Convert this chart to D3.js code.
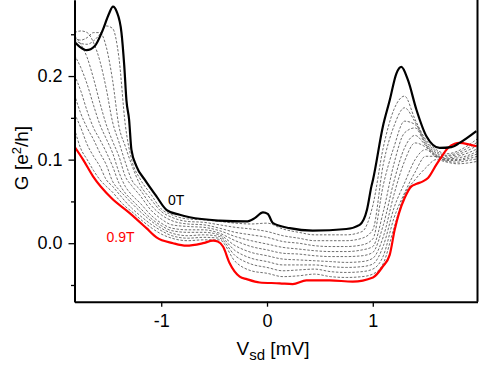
<!DOCTYPE html>
<html>
<head>
<meta charset="utf-8">
<script src="https://cdn.jsdelivr.net/npm/d3@7"></script>
<style>
  body { margin: 0; background: #fff; }
  svg { display: block; font-family: "Liberation Sans", Arial, sans-serif; }
</style>
</head>
<body>
<svg id="chart"></svg>
<script>
// bias voltage grid (mV) shared by the dashed intermediate-field curves
let vGrid = [-1.82, -1.76, -1.70, -1.64, -1.58, -1.52, -1.46, -1.40, -1.34, -1.28, -1.20, -1.10, -1.00, -0.90, -0.75, -0.60, -0.45, -0.30, -0.15, 0.00, 0.15, 0.30, 0.45, 0.60, 0.75, 0.90, 1.00, 1.10, 1.20, 1.30, 1.40, 1.50, 1.60, 1.70, 1.80, 1.90, 1.99]

// dashed curves, from just above 0T down to just below 0.9T
let g1 = [0.244, 0.239, 0.238, 0.242, 0.250, 0.260, 0.257, 0.222, 0.142, 0.100, 0.077, 0.059, 0.041, 0.034, 0.029, 0.028, 0.026, 0.024, 0.023, 0.024, 0.017, 0.013, 0.010, 0.010, 0.010, 0.014, 0.045, 0.115, 0.160, 0.176, 0.148, 0.124, 0.112, 0.107, 0.110, 0.117, 0.125]
let g2 = [0.246, 0.243, 0.246, 0.252, 0.252, 0.235, 0.195, 0.140, 0.116, 0.094, 0.070, 0.053, 0.038, 0.031, 0.026, 0.025, 0.022, 0.019, 0.017, 0.014, 0.009, 0.006, 0.003, 0.003, 0.003, 0.006, 0.016, 0.095, 0.140, 0.162, 0.145, 0.122, 0.110, 0.105, 0.108, 0.114, 0.121]
let g3 = [0.252, 0.254, 0.252, 0.240, 0.218, 0.185, 0.145, 0.121, 0.097, 0.076, 0.064, 0.046, 0.034, 0.027, 0.023, 0.022, 0.018, 0.013, 0.010, 0.007, 0.002, 0.000, -0.003, -0.004, -0.004, -0.002, 0.005, 0.070, 0.115, 0.146, 0.142, 0.120, 0.108, 0.104, 0.106, 0.111, 0.117]
let g4 = [0.248, 0.238, 0.222, 0.197, 0.168, 0.142, 0.122, 0.104, 0.080, 0.069, 0.057, 0.040, 0.029, 0.022, 0.020, 0.019, 0.015, 0.008, 0.003, -0.001, -0.005, -0.007, -0.009, -0.010, -0.010, -0.008, -0.004, 0.038, 0.095, 0.132, 0.138, 0.118, 0.106, 0.102, 0.104, 0.108, 0.113]
let g5 = [0.225, 0.210, 0.190, 0.165, 0.142, 0.125, 0.108, 0.085, 0.068, 0.058, 0.048, 0.034, 0.024, 0.018, 0.016, 0.016, 0.012, 0.003, -0.004, -0.008, -0.012, -0.013, -0.015, -0.016, -0.016, -0.015, -0.011, 0.022, 0.074, 0.114, 0.129, 0.117, 0.105, 0.101, 0.102, 0.105, 0.110]
let g6 = [0.201, 0.182, 0.158, 0.138, 0.124, 0.109, 0.092, 0.072, 0.060, 0.052, 0.042, 0.030, 0.021, 0.015, 0.013, 0.013, 0.010, -0.003, -0.011, -0.015, -0.019, -0.020, -0.021, -0.022, -0.023, -0.022, -0.018, 0.008, 0.058, 0.098, 0.120, 0.115, 0.104, 0.100, 0.100, 0.103, 0.107]
let g7 = [0.178, 0.155, 0.138, 0.124, 0.108, 0.094, 0.074, 0.064, 0.056, 0.048, 0.038, 0.027, 0.018, 0.012, 0.009, 0.010, 0.008, -0.009, -0.018, -0.022, -0.026, -0.026, -0.026, -0.028, -0.029, -0.028, -0.025, -0.003, 0.042, 0.072, 0.100, 0.112, 0.103, 0.099, 0.099, 0.101, 0.104]
let g8 = [0.155, 0.138, 0.118, 0.104, 0.092, 0.076, 0.068, 0.059, 0.050, 0.042, 0.033, 0.023, 0.015, 0.009, 0.006, 0.007, 0.006, -0.015, -0.025, -0.029, -0.033, -0.032, -0.031, -0.034, -0.035, -0.034, -0.031, -0.015, 0.030, 0.060, 0.085, 0.104, 0.104, 0.098, 0.097, 0.099, 0.101]
let g9 = [0.137, 0.113, 0.100, 0.087, 0.076, 0.068, 0.061, 0.052, 0.044, 0.038, 0.029, 0.019, 0.011, 0.006, 0.003, 0.004, 0.004, -0.022, -0.033, -0.036, -0.040, -0.039, -0.037, -0.040, -0.041, -0.040, -0.037, -0.024, 0.018, 0.058, 0.076, 0.090, 0.100, 0.097, 0.095, 0.096, 0.098]

// 0T (black)
let v0T = [-1.822, -1.77, -1.707, -1.628, -1.553, -1.496, -1.456, -1.421, -1.376, -1.35, -1.329, -1.304, -1.282, -1.234, -1.156, -1.045, -0.951, -0.825, -0.731, -0.447, -0.195, -0.116, -0.038, 0.007, 0.057, 0.215, 0.432, 0.750, 0.876, 0.945, 0.987, 1.002, 1.096, 1.160, 1.223, 1.270, 1.333, 1.412, 1.507, 1.632, 1.743, 1.821, 1.979]
let g0T = [0.241, 0.235, 0.231, 0.236, 0.255, 0.274, 0.283, 0.277, 0.252, 0.213, 0.171, 0.148, 0.112, 0.092, 0.076, 0.056, 0.040, 0.034, 0.031, 0.027, 0.026, 0.030, 0.037, 0.035, 0.024, 0.018, 0.015, 0.017, 0.022, 0.040, 0.068, 0.076, 0.140, 0.171, 0.203, 0.211, 0.195, 0.160, 0.128, 0.114, 0.115, 0.120, 0.134]

// 0.9T (red)
let v09T = [-1.822, -1.739, -1.645, -1.471, -1.298, -1.140, -1.045, -0.888, -0.762, -0.605, -0.510, -0.466, -0.416, -0.353, -0.258, -0.192, -0.069, 0.120, 0.243, 0.372, 0.593, 0.810, 1.002, 1.094, 1.160, 1.207, 1.248, 1.301, 1.365, 1.415, 1.474, 1.522, 1.601, 1.632, 1.711, 1.774, 1.821, 1.916, 1.982]
let g09T = [0.116, 0.100, 0.080, 0.054, 0.036, 0.018, 0.007, 0.000, -0.003, 0.000, 0.003, 0.002, -0.004, -0.024, -0.040, -0.043, -0.047, -0.048, -0.049, -0.0445, -0.0445, -0.046, -0.041, -0.028, -0.014, 0.016, 0.036, 0.054, 0.068, 0.071, 0.074, 0.078, 0.094, 0.100, 0.114, 0.119, 0.120, 0.118, 0.116]

let xTicks = [-1, 0, 1]
let yTicks = [0.0, 0.1, 0.2]
let yMinor = [-0.05, 0.05, 0.15, 0.25]

let w = 479
let h = 366
let padLeft = 74.5
let padRight = 477.5
let padTop = 0
let padBottom = 301.7

let svg = d3.select("#chart").attr("width", w).attr("height", h)

let xScale = d3.scaleLinear().domain([-1.82, 1.99]).range([padLeft, padRight])
let yScale = d3.scaleLinear().domain([-0.07, 0.291]).range([padBottom, padTop])

svg.append("defs").append("clipPath").attr("id", "plot")
   .append("rect")
   .attr("x", padLeft).attr("y", padTop)
   .attr("width", padRight - padLeft).attr("height", padBottom - padTop)

let line = d3.line()
             .x((d) => xScale(d[0]))
             .y((d) => yScale(d[1]))
             .curve(d3.curveMonotoneX)

let curves = svg.append("g").attr("clip-path", "url(#plot)")

let dashed = [g1, g2, g3, g4, g5, g6, g7, g8, g9]
curves.selectAll(".mid")
      .data(dashed)
      .enter()
      .append("path")
      .attr("class", "mid")
      .attr("d", (g) => line(vGrid.map((v, i) => [v, g[i]])))
      .attr("fill", "none")
      .attr("stroke", "#4a4a4a")
      .attr("stroke-width", 0.8)
      .attr("stroke-dasharray", "2.5,1.6")

curves.append("path")
      .attr("d", line(v09T.map((v, i) => [v, g09T[i]])))
      .attr("fill", "none")
      .attr("stroke", "#ff0000")
      .attr("stroke-width", 2.2)

curves.append("path")
      .attr("d", line(v0T.map((v, i) => [v, g0T[i]])))
      .attr("fill", "none")
      .attr("stroke", "#000")
      .attr("stroke-width", 2.2)

// axes
let yAxis = d3.axisLeft(yScale)
              .tickValues(yTicks)
              .tickSize(6)
              .tickSizeOuter(0)
              .tickPadding(6)
              .tickFormat(d3.format(".1f"))
let yAxisMinor = d3.axisLeft(yScale)
                   .tickValues(yMinor)
                   .tickSize(3.5)
                   .tickSizeOuter(0)
                   .tickFormat("")
let xAxis = d3.axisBottom(xScale)
              .tickValues(xTicks)
              .tickSize(5)
              .tickSizeOuter(0)
              .tickPadding(8)
              .tickFormat((d) => d < 0 ? "-" + Math.abs(d) : d)

svg.append("g").attr("transform", "translate(" + padLeft + ",0)").call(yAxis)
svg.append("g").attr("transform", "translate(" + padLeft + ",0)").call(yAxisMinor)
svg.append("g").attr("transform", "translate(0," + padBottom + ")").call(xAxis)

svg.selectAll(".domain").attr("stroke", "#000").attr("stroke-width", 2)
svg.selectAll(".tick line").attr("stroke", "#000").attr("stroke-width", 1.3)
svg.selectAll(".tick text").attr("fill", "#000").style("font-size", "18px")
   .style("font-family", "'Liberation Sans', Arial, sans-serif")

// right frame line
svg.append("line")
   .attr("x1", padRight).attr("x2", padRight)
   .attr("y1", padTop).attr("y2", padBottom)
   .attr("stroke", "#000").attr("stroke-width", 2)

// axis titles
let yTitle = svg.append("text")
                .attr("transform", "translate(28,158) rotate(-90)")
                .attr("text-anchor", "middle")
                .style("font-size", "19px")
                .attr("fill", "#000")
yTitle.append("tspan").text("G [e")
yTitle.append("tspan").attr("dy", -7).style("font-size", "13px").text("2")
yTitle.append("tspan").attr("dy", 7).text("/h]")

let xTitle = svg.append("text")
                .attr("x", 273).attr("y", 355)
                .attr("text-anchor", "middle")
                .style("font-size", "19px")
                .attr("fill", "#000")
xTitle.append("tspan").text("V")
xTitle.append("tspan").attr("dy", 5).style("font-size", "15px").text("sd")
xTitle.append("tspan").attr("dy", -5).text(" [mV]")

// curve labels
svg.append("text")
   .attr("x", 168).attr("y", 205)
   .style("font-size", "14px")
   .attr("fill", "#000")
   .text("0T")
svg.append("text")
   .attr("x", 106.5).attr("y", 241.7)
   .style("font-size", "14px")
   .attr("fill", "#ff0000")
   .text("0.9T")
</script>
</body>
</html>
